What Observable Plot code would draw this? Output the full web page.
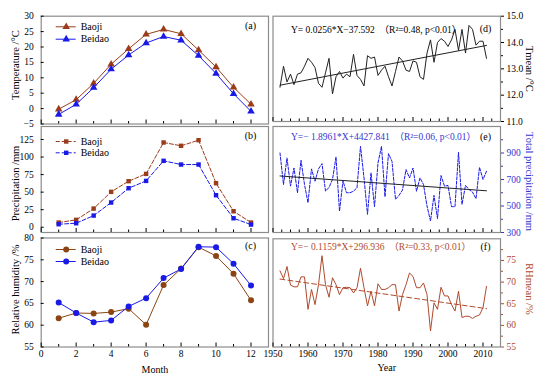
<!DOCTYPE html>
<html><head><meta charset="utf-8">
<script src="https://cdn.jsdelivr.net/npm/d3@7"></script>
<script src="https://cdn.jsdelivr.net/npm/@observablehq/plot@0.6"></script>
<style>
body{margin:0;background:#fff;}
#chart{position:relative;width:550px;height:382px;overflow:hidden;background:#fff;}
#chart svg{position:absolute;left:0;top:0;}
#chart svg, #chart svg text{font-family:"Liberation Serif","Times New Roman","Noto Sans CJK SC",serif !important;}
</style></head><body><div id="chart"></div>
<script>
// ---------- data ----------
const months = [1,2,3,4,5,6,7,8,9,10,11,12];
const tempBaoji  = [-0.2, 2.9, 8.2, 14.4, 19.4, 24.1, 25.7, 24.3, 19.0, 13.5, 6.9, 1.4];
const tempBeidao = [-1.9, 1.4, 6.8, 12.8, 17.4, 21.3, 23.4, 22.2, 17.2, 11.4, 4.8, -0.9];
const precBaoji  = [6.7, 10.5, 26.6, 50.4, 65.6, 76.0, 120.7, 116.0, 124.0, 62.7, 22.8, 6.7];
const precBeidao = [4.3, 5.7, 16.6, 35.2, 55.6, 66.0, 94.6, 89.3, 89.3, 45.6, 12.8, 3.8];
const rhBaoji    = [61.6, 62.8, 62.7, 63.0, 63.8, 60.1, 69.2, 73.0, 77.9, 75.9, 71.8, 65.7];
const rhBeidao   = [65.2, 62.8, 60.7, 61.1, 64.3, 66.2, 70.8, 72.9, 78.0, 77.9, 74.1, 69.1];
const stations = ["Baoji", "Beidao"];

const years = d3.range(1952, 2012);
const tmean = [12.3,13.1,12.5,12.8,12.4,12.8,12.85,13.1,13.4,13.25,13.05,12.45,12.3,12.85,13.4,12.05,12.7,12.9,12.65,12.8,
               12.7,13.55,12.75,12.6,12.35,13.5,13.4,13.45,12.75,12.95,13.1,12.7,12.35,12.9,13.45,13.3,12.95,12.9,13.3,13.25,
               12.7,12.6,13.6,14.1,13.25,14.0,14.15,14.05,13.85,14.1,14.5,13.7,14.5,13.6,14.65,14.5,13.9,14.05,14.05,13.4];
const precip = [900,662,862,650,787,600,845,662,525,780,687,780,820,612,640,700,870,462,690,600,
                600,612,637,950,712,437,750,495,825,950,570,895,837,550,580,620,775,712,787,612,
                712,662,500,387,580,405,730,650,655,495,495,905,512,655,625,605,555,792,700,762];
const rhmean = [72.6,70.8,73.6,69.3,68.9,68.9,71.2,71.2,63.7,68.3,64.8,69.4,76.1,69.4,66.5,71.0,69.4,67.1,68.7,68.8,
                68.7,67.5,68.7,73.2,68.7,64.5,67.9,64.5,69.6,68.3,68.3,68.7,69.4,69.4,63.3,67.1,69.4,72.1,71.3,68.7,
                68.7,69.8,67.1,58.7,65.2,63.7,68.8,66.8,66.8,64.8,63.3,67.9,61.8,62.1,62.1,61.6,62.1,62.4,64.1,69.0];
// regression equations as printed on the chart
const regD = {slope: 0.0256, intercept: -37.592};
const regE = {slope: -1.8961, intercept: 4427.841};
const regF = {slope: -0.1159, intercept: 296.936};
const eqD = "Y= 0.0256*X\u221237.592\u2002\uff08R\u00b2=0.48, p<0.01\uff09";
const eqE = "Y=\u2212 1.8961*X+4427.841\u2002\uff08R\u00b2=0.06, p<0.01\uff09";
const eqF = "Y=\u2212 0.1159*X+296.936\u2002\uff08R\u00b2=0.33, p<0.01\uff09";

const tempTicks = [-5,0,5,10,15,20,25,30];
const precTicks = [0,25,50,75,100,125];
const rhTicks = [55,60,65,70,75,80];
const monthTicks = [0,2,4,6,8,10,12];
const monthMinor = [1,3,5,7,9,11];
const tmTicks = [11,12,13,14,15];
const tmMinor = [11.5,12.5,13.5,14.5];
const prTicks = [300,500,700,900];
const prMinor = [400,600,800,1000];
const rhmTicks = [55,60,65,70,75];
const rhmMinor = [57.5,62.5,67.5,72.5,77.5];
const yearTicks = [1950,1960,1970,1980,1990,2000,2010];
const yearMinor = d3.range(1952.5, 2015, 2.5).filter(y => y % 10 !== 0);

// ---------- styles ----------
const BROWN = "#9a3c1c", BROWN_C = "#8b4513", BLUE = "#1a1ae6", RED = "#b04a2c", BLUE_T = "#3535d0", FRAME = "#8c8c8c";
const FONT = "Liberation Serif, Times New Roman, serif";

const root = document.getElementById("chart");
const L = {x0: 40.7, x1: 268}, R = {x0: 272.5, x1: 500};
const rows = [{y0: 15.7, y1: 123.5}, {y0: 126, y1: 232}, {y0: 237.5, y1: 346.5}];
const rowsR = [{y0: 15.7, y1: 121}, {y0: 126, y1: 232}, {y0: 238.3, y1: 346.5}];

function panel(col, row, xDomain, yDomain, marks) {
  const svg = Plot.plot({
    width: 550, height: 382,
    marginLeft: col.x0, marginRight: 550 - col.x1, marginTop: row.y0, marginBottom: 382 - row.y1,
    x: {domain: xDomain}, y: {domain: yDomain},
    style: {background: "transparent", fontFamily: FONT, fontSize: "9px", overflow: "visible", color: "black"},
    marks: [Plot.frame({stroke: FRAME, strokeWidth: 1.2}), ...marks]
  });
  root.appendChild(svg);
}

function label(t, opts) {
  return Plot.text([t], {text: d => d, textAnchor: "middle", lineAnchor: "middle", fontFamily: FONT, fill: "black", ...opts});
}

const lineSym = {draw(ctx) { ctx.moveTo(-10, 0); ctx.lineTo(10, 0); }};
const symR = {triangle: 2.8, square: 2.5, circle: 3.0};
function legendRow(name, dy, color, symbol, dash) {
  return [
    Plot.dot([name], {frameAnchor: "top-left", dx: 24.5, dy, symbol: lineSym, stroke: color, fill: "none", strokeWidth: 1, strokeDasharray: dash}),
    Plot.dot([name], {frameAnchor: "top-left", dx: 25, dy, symbol, r: symR[symbol], fill: color, stroke: "none"}),
    label(name, {frameAnchor: "top-left", dx: 39.5, dy, textAnchor: "start", fontSize: 10})
  ];
}
function leftYAxis(ticks) {
  return Plot.axisY(ticks, {anchor: "left", tickSize: -3, tickPadding: 10.5, label: null, fontSize: 9.5, fontFamily: FONT});
}
function monthAxis(labels) {
  return [
    Plot.axisX(monthTicks, {anchor: "bottom", tickSize: -4, tickPadding: 7, label: null, fontSize: 9.5, fontFamily: FONT, tickFormat: labels ? d => String(d) : () => ""}),
    Plot.axisX(monthMinor, {anchor: "bottom", tickSize: -2.5, label: null, tickFormat: () => ""})
  ];
}
function yearAxis(labels) {
  return [
    Plot.axisX(yearTicks, {anchor: "bottom", tickSize: -4, tickPadding: 7, label: null, fontSize: 9.5, fontFamily: FONT, tickFormat: labels ? d => String(d) : () => ""}),
    Plot.axisX(yearMinor, {anchor: "bottom", tickSize: -2.5, label: null, tickFormat: () => ""})
  ];
}
function rightYAxis(ticks, minor, color, fmt) {
  return [
    Plot.axisY(ticks, {anchor: "right", tickSize: 3, tickPadding: 3, label: null, fontSize: 9.5, fontFamily: FONT, color, tickFormat: fmt}),
    Plot.axisY(minor, {anchor: "right", tickSize: 2, label: null, color, tickFormat: () => ""})
  ];
}
const ptitle = (t, dx, dy) => label(t, {frameAnchor: "top-right", dx, dy, fontSize: 10});
const ytitleL = (t, dy) => label(t, {frameAnchor: "left", dx: -26, dy, rotate: -90, fontSize: 10.5});
const ytitleR = (t, dy, color) => label(t, {frameAnchor: "right", dx: 28.5, dy, rotate: 90, fontSize: 10.5, fill: color});
const equation = (t, dy, color) => label(t, {frameAnchor: "top-left", dx: 18, dy, textAnchor: "start", fontSize: 9.5, fill: color});

function trend(reg) {
  const ends = [years[0], years[years.length - 1]];
  return ends.map(x => ({x, y: reg.slope * x + reg.intercept}));
}
const byMonth = (vals) => months.map((m, i) => ({m, v: vals[i]}));
const byYear = (vals) => years.map((y, i) => ({y, v: vals[i]}));

// (a) temperature
panel(L, rows[0], [0, 13], [-5, 30], [
  leftYAxis(tempTicks), ...monthAxis(false),
  Plot.line(byMonth(tempBaoji), {x: "m", y: "v", stroke: BROWN, strokeWidth: 1}),
  Plot.dot(byMonth(tempBaoji), {x: "m", y: "v", symbol: "triangle", r: symR.triangle, fill: BROWN}),
  Plot.line(byMonth(tempBeidao), {x: "m", y: "v", stroke: BLUE, strokeWidth: 1}),
  Plot.dot(byMonth(tempBeidao), {x: "m", y: "v", symbol: "triangle", r: symR.triangle, fill: BLUE}),
  ...legendRow(stations[0], 10.6, BROWN, "triangle"),
  ...legendRow(stations[1], 23, BLUE, "triangle"),
  ptitle("(a)", -18, 9.5),
  ytitleL("Temperature /\u00b0C", -5)
]);

// (b) precipitation
panel(L, rows[1], [0, 13], [-7.5, 143.5], [
  leftYAxis(precTicks), ...monthAxis(false),
  Plot.line(byMonth(precBaoji), {x: "m", y: "v", stroke: BROWN, strokeWidth: 1, strokeDasharray: "4,2"}),
  Plot.dot(byMonth(precBaoji), {x: "m", y: "v", symbol: "square", r: symR.square, fill: BROWN}),
  Plot.line(byMonth(precBeidao), {x: "m", y: "v", stroke: BLUE, strokeWidth: 1, strokeDasharray: "4,2"}),
  Plot.dot(byMonth(precBeidao), {x: "m", y: "v", symbol: "square", r: symR.square, fill: BLUE}),
  ...legendRow(stations[0], 15, BROWN, "square", "4,2"),
  ...legendRow(stations[1], 26.3, BLUE, "square", "4,2"),
  ptitle("(b)", -18, 9),
  ytitleL("Precipitation /mm", 4)
]);

// (c) relative humidity
panel(L, rows[2], [0, 13], [55, 80], [
  leftYAxis(rhTicks), ...monthAxis(true),
  Plot.line(byMonth(rhBaoji), {x: "m", y: "v", stroke: BROWN_C, strokeWidth: 1}),
  Plot.dot(byMonth(rhBaoji), {x: "m", y: "v", r: symR.circle, fill: BROWN_C}),
  Plot.line(byMonth(rhBeidao), {x: "m", y: "v", stroke: BLUE, strokeWidth: 1}),
  Plot.dot(byMonth(rhBeidao), {x: "m", y: "v", r: symR.circle, fill: BLUE}),
  ...legendRow(stations[0], 11.5, BROWN_C, "circle"),
  ...legendRow(stations[1], 23.5, BLUE, "circle"),
  ptitle("(c)", -18, 7.5),
  ytitleL("Relative humidity /%", -3),
  label("Month", {frameAnchor: "bottom", dy: 22.5, fontSize: 10})
]);

// (d) Tmean
panel(R, rowsR[0], [1950, 2015], [11, 15], [
  ...rightYAxis(tmTicks, tmMinor, "black", d3.format(".1f")), ...yearAxis(false),
  Plot.line(byYear(tmean), {x: "y", y: "v", stroke: "#222", strokeWidth: 1}),
  Plot.line(trend(regD), {x: "x", y: "y", stroke: "#222", strokeWidth: 1}),
  equation(eqD, 13.3, "black"),
  ptitle("(d)", -15, 13),
  ytitleR("Tmean /\u00b0C", 0, "black")
]);

// (e) precipitation
panel(R, rowsR[1], [1950, 2015], [300, 1100], [
  ...rightYAxis(prTicks, prMinor, BLUE_T, d => String(d)), ...yearAxis(false),
  Plot.line(byYear(precip), {x: "y", y: "v", stroke: BLUE, strokeWidth: 1, strokeDasharray: "3,1.5"}),
  Plot.line(trend(regE), {x: "x", y: "y", stroke: "#222", strokeWidth: 1}),
  equation(eqE, 10.7, BLUE_T),
  ptitle("(e)", -15, 10.7),
  ytitleR("Total precipitation /mm", 2, BLUE_T)
]);

// (f) RH mean
panel(R, rowsR[2], [1950, 2015], [55, 80], [
  ...rightYAxis(rhmTicks, rhmMinor, RED, d => String(d)), ...yearAxis(true),
  Plot.line(byYear(rhmean), {x: "y", y: "v", stroke: RED, strokeWidth: 1}),
  Plot.line(trend(regF), {x: "x", y: "y", stroke: RED, strokeWidth: 1, strokeDasharray: "5,3"}),
  equation(eqF, 8, RED),
  ptitle("(f)", -15, 8.4),
  ytitleR("RHmean /%", -4, RED),
  label("Year", {frameAnchor: "bottom", dy: 21, fontSize: 10})
]);
</script></body></html>
